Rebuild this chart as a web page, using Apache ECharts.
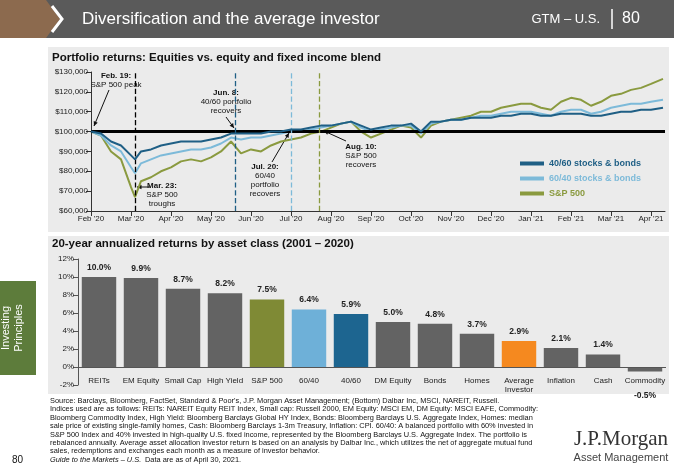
<!DOCTYPE html>
<html>
<head>
<meta charset="utf-8"/>
<script src="https://cdn.jsdelivr.net/npm/echarts@6/dist/echarts.min.js"></script>
<style>body{margin:0;background:#fff}#main{width:674px;height:470px}</style>
</head>
<body>
<div id="main"></div>
<script>
// months since Feb '20 label
var xs = [0,0.25,0.5,0.75,1.0,1.1,1.25,1.5,1.75,2.0,2.25,2.5,2.75,3.0,3.25,3.5,3.75,4.0,4.25,4.5,4.75,5.0,5.25,5.5,5.75,6.0,6.25,6.5,6.75,7.0,7.25,7.5,7.75,8.0,8.25,8.5,8.75,9.0,9.25,9.5,9.75,10.0,10.25,10.5,10.75,11.0,11.25,11.5,11.75,12.0,12.25,12.5,12.75,13.0,13.25,13.5,13.75,14.0,14.3];
var sp500 = [100,98,90,86,72,67,75,77,80,82,85,86,85,87,90,95,89,91,90,93,95,96,97,99,100,102,104,105,100,97,99,101,103,102,97,103,105,106,107,108,110,110,112,113,114,114,112,111,115,117,116,113,115,118,119,121,122,124,126.5];
var p6040 = [100,98,93,90,82,79,84,86,88,89,90,91,91,92,94,97,96,97,97,98,99,100,100,101,102,103,104,105,102,100,101,102,103,103,99,104,105,106,106,107,108,108,109,110,110,110,109,108,110,111,111,109,110,112,113,114,114,115,116];
var p4060 = [100,99,95,93,88,86,90,91,93,94,95,95,95,96,97,99,99,99,99,100,100,101,101,102,103,103,104,105,103,101,102,103,103,104,100,105,105,106,106,107,107,107,108,108,109,109,108,108,109,109,109,108,108,109,110,110,111,111,112];
var monthLabels = ["Feb '20","Mar '20","Apr '20","May '20","Jun '20","Jul '20","Aug '20","Sep '20","Oct '20","Nov '20","Dec '20","Jan '21","Feb '21","Mar '21","Apr '21"];

var assetClasses = ['REITs','EM Equity','Small Cap','High Yield','S&P 500','60/40','40/60','DM Equity','Bonds','Homes','Average\nInvestor','Inflation','Cash','Commodity'];
var assetReturns = [10.0,9.9,8.7,8.2,7.5,6.4,5.9,5.0,4.8,3.7,2.9,2.1,1.4,-0.5];
var barColors = ['#636363','#636363','#636363','#636363','#7f8a35','#6eb0d8','#1d6590','#636363','#636363','#636363','#f5891f','#636363','#636363','#636363'];

var C_DARK = '#1f5f85', C_LIGHT = '#7dbad9', C_OLIVE = '#8a9a3f';
var F = 'Arial, "Liberation Sans", sans-serif';

function t(x, y, text, o) {
  o = o || {};
  return {type: 'text', x: x, y: y, silent: true, style: {
    text: text, x: 0, y: 0, fill: o.fill || '#111', font: (o.i ? 'italic ' : '') + (o.w || 'normal') + ' ' + (o.s || 8) + 'px ' + (o.f || F),
    align: o.a || 'left', verticalAlign: 'middle'}};
}
function ln(x1, y1, x2, y2, c, w) {
  return {type: 'line', silent: true, shape: {x1: x1, y1: y1, x2: x2, y2: y2}, style: {stroke: c || '#111', lineWidth: w || 1}};
}
function arrow(x1, y1, x2, y2) {
  var a = Math.atan2(y2 - y1, x2 - x1), L = 5;
  return [ln(x1, y1, x2, y2), {type: 'polygon', silent: true, shape: {points: [[x2, y2],
    [x2 - L * Math.cos(a - 0.45), y2 - L * Math.sin(a - 0.45)], [x2 - L * Math.cos(a + 0.45), y2 - L * Math.sin(a + 0.45)]]}, style: {fill: '#111'}}];
}

var foot = [
  "Source: Barclays, Bloomberg, FactSet, Standard & Poor's, J.P. Morgan Asset Management; (Bottom) Dalbar Inc, MSCI, NAREIT, Russell.",
  "Indices used are as follows: REITs: NAREIT Equity REIT Index, Small cap: Russell 2000, EM Equity: MSCI EM, DM Equity: MSCI EAFE, Commodity:",
  "Bloomberg Commodity Index, High Yield: Bloomberg Barclays Global HY Index, Bonds: Bloomberg Barclays U.S. Aggregate Index, Homes: median",
  "sale price of existing single-family homes, Cash: Bloomberg Barclays 1-3m Treasury, Inflation: CPI. 60/40: A balanced portfolio with 60% invested in",
  "S&P 500 Index and 40% invested in high-quality U.S. fixed income, represented by the Bloomberg Barclays U.S. Aggregate Index. The portfolio is",
  "rebalanced annually. Average asset allocation investor return is based on an analysis by Dalbar Inc., which utilizes the net of aggregate mutual fund",
  "sales, redemptions and exchanges each month as a measure of investor behavior."
];

var g = [
  {type: 'rect', shape: {x: 0, y: 0, width: 674, height: 38}, style: {fill: '#5a5a5a'}, z: -1},
  {type: 'polygon', shape: {points: [[0,0],[46,0],[60,19],[46,38],[0,38]]}, style: {fill: '#8c6a4e'}, z: -1},
  {type: 'polyline', shape: {points: [[52,6],[62,19],[52,32]]}, style: {stroke: '#fff', lineWidth: 3, fill: null}},
  t(82, 19, 'Diversification and the average investor', {fill: '#fff', s: 17}),
  t(600, 19, 'GTM – U.S.', {fill: '#fff', s: 13, a: 'right'}),
  ln(612, 9, 612, 29, '#fff', 1.5),
  t(622, 19, '80', {fill: '#fff', s: 16}),
  {type: 'rect', shape: {x: 48, y: 47, width: 621, height: 185}, style: {fill: '#ebebeb'}, z: -1},
  {type: 'rect', shape: {x: 48, y: 236, width: 621, height: 158}, style: {fill: '#ebebeb'}, z: -1},
  t(52, 58, 'Portfolio returns: Equities vs. equity and fixed income blend', {w: 'bold', s: 11.5}),
  t(52, 244, '20-year annualized returns by asset class (2001 – 2020)', {w: 'bold', s: 11.5}),
  {type: 'rect', shape: {x: 0, y: 281, width: 36, height: 94}, style: {fill: '#5d7c3b'}},
  {type: 'text', x: 12, y: 328, rotation: Math.PI / 2, style: {text: 'Investing\nPrinciples', fill: '#fff', font: '11px ' + F, align: 'center', verticalAlign: 'middle', lineHeight: 13}},
  t(12, 460, '80', {s: 10}),
  // annotations
  t(116, 76, 'Feb. 19:', {w: 'bold', a: 'center'}), t(116, 85, 'S&P 500 peak', {a: 'center'}),
  t(226, 93, 'Jun. 8:', {w: 'bold', a: 'center'}), t(226, 102, '40/60 portfolio', {a: 'center'}), t(226, 111, 'recovers', {a: 'center'}),
  t(162, 186, 'Mar. 23:', {w: 'bold', a: 'center'}), t(162, 195, 'S&P 500', {a: 'center'}), t(162, 204, 'troughs', {a: 'center'}),
  t(265, 167, 'Jul. 20:', {w: 'bold', a: 'center'}), t(265, 176, '60/40', {a: 'center'}), t(265, 185, 'portfolio', {a: 'center'}), t(265, 194, 'recovers', {a: 'center'}),
  t(361, 147, 'Aug. 10:', {w: 'bold', a: 'center'}), t(361, 156, 'S&P 500', {a: 'center'}), t(361, 165, 'recovers', {a: 'center'}),
  // logo
  t(621, 439, 'J.P.Morgan', {s: 21, a: 'center', fill: '#333', f: '"Liberation Serif", "DejaVu Serif", serif'}),
  t(621, 458, 'Asset Management', {s: 11, a: 'center', fill: '#444'})
];
g = g.concat(arrow(109, 90, 94, 126), arrow(226, 117, 234, 128), arrow(150, 187, 137, 187), arrow(272, 162, 289, 133), arrow(346, 141, 324, 131));
foot.forEach(function (s, i) { g.push(t(50, 401 + i * 8.4, s, {s: 7.4})); });
g.push(t(50, 401 + 7 * 8.4, 'Guide to the Markets – U.S.', {s: 7.4, i: true}));
g.push(t(145, 401 + 7 * 8.4, 'Data are as of April 30, 2021.', {s: 7.4}));

function pts(v) { return xs.map(function (x, i) { return [x, v[i]]; }); }
function vline(x, c) { return {xAxis: x, lineStyle: {color: c, type: 'dashed', width: 1.3}}; }

var chart = echarts.init(document.getElementById('main'));
chart.setOption({
  animation: false,
  textStyle: {fontFamily: F},
  graphic: g,
  legend: {orient: 'vertical', left: 515, top: 154, itemWidth: 24, itemHeight: 4, itemGap: 6, icon: 'rect',
    data: [
      {name: '40/60 stocks & bonds', textStyle: {color: C_DARK}},
      {name: '60/40 stocks & bonds', textStyle: {color: C_LIGHT}},
      {name: 'S&P 500', textStyle: {color: C_OLIVE}}],
    textStyle: {fontSize: 9, fontWeight: 'bold'}},
  grid: [
    {left: 91, right: 9, top: 72, height: 139},
    {left: 78, right: 8, top: 259, height: 126}
  ],
  xAxis: [
    {type: 'value', gridIndex: 0, min: 0, max: 14.35, interval: 1,
      axisLine: {lineStyle: {color: '#333'}}, axisTick: {lineStyle: {color: '#333'}}, splitLine: {show: false},
      axisLabel: {fontSize: 8, color: '#222', margin: 4, showMaxLabel: false, formatter: function (v) { return monthLabels[v] || ''; }}},
    {type: 'category', gridIndex: 1, data: assetClasses, axisLine: {show: false, onZero: false}, axisTick: {show: false},
      axisLabel: {fontSize: 8, color: '#222', margin: -9, interval: 0, lineHeight: 9, verticalAlign: 'top'}}
  ],
  yAxis: [
    {type: 'value', gridIndex: 0, min: 60, max: 130, interval: 10,
      axisLine: {show: true, lineStyle: {color: '#333'}}, axisTick: {show: true}, splitLine: {show: false},
      axisLabel: {fontSize: 8, color: '#222', margin: 3, formatter: function (v) { return '$' + v + ',000'; }}},
    {type: 'value', gridIndex: 1, min: -2, max: 12, interval: 2,
      axisLine: {show: true, lineStyle: {color: '#555'}}, axisTick: {show: true}, splitLine: {show: false},
      axisLabel: {fontSize: 8, color: '#222', margin: 4, formatter: '{value}%'}}
  ],
  series: [
    {name: 'S&P 500', type: 'line', xAxisIndex: 0, yAxisIndex: 0, data: pts(sp500), showSymbol: false,
      lineStyle: {color: C_OLIVE, width: 2}, itemStyle: {color: C_OLIVE}, z: 3,
      markLine: {symbol: 'none', silent: true, label: {show: false},
        data: [{yAxis: 100, lineStyle: {color: '#000', type: 'solid', width: 3}}, vline(1.1, '#000'), vline(3.6, C_DARK), vline(5.0, C_LIGHT), vline(5.7, C_OLIVE)]}},
    {name: '60/40 stocks & bonds', type: 'line', xAxisIndex: 0, yAxisIndex: 0, data: pts(p6040), showSymbol: false,
      lineStyle: {color: C_LIGHT, width: 2}, itemStyle: {color: C_LIGHT}, z: 4},
    {name: '40/60 stocks & bonds', type: 'line', xAxisIndex: 0, yAxisIndex: 0, data: pts(p4060), showSymbol: false,
      lineStyle: {color: C_DARK, width: 2}, itemStyle: {color: C_DARK}, z: 5},
    {type: 'bar', xAxisIndex: 1, yAxisIndex: 1, barWidth: '82%',
      markLine: {symbol: 'none', silent: true, label: {show: false}, data: [{yAxis: 0, lineStyle: {color: '#555', type: 'solid', width: 1}}]},
      data: assetReturns.map(function (v, i) {
        return {value: v, itemStyle: {color: barColors[i]},
          label: v < 0 ? {position: 'bottom', distance: 20} : {}};
      }),
      label: {show: true, position: 'top', distance: 5, fontSize: 8.5, fontWeight: 'bold', color: '#222',
        formatter: function (p) { return p.value.toFixed(1) + '%'; }}}
  ]
});
</script>
</body>
</html>
